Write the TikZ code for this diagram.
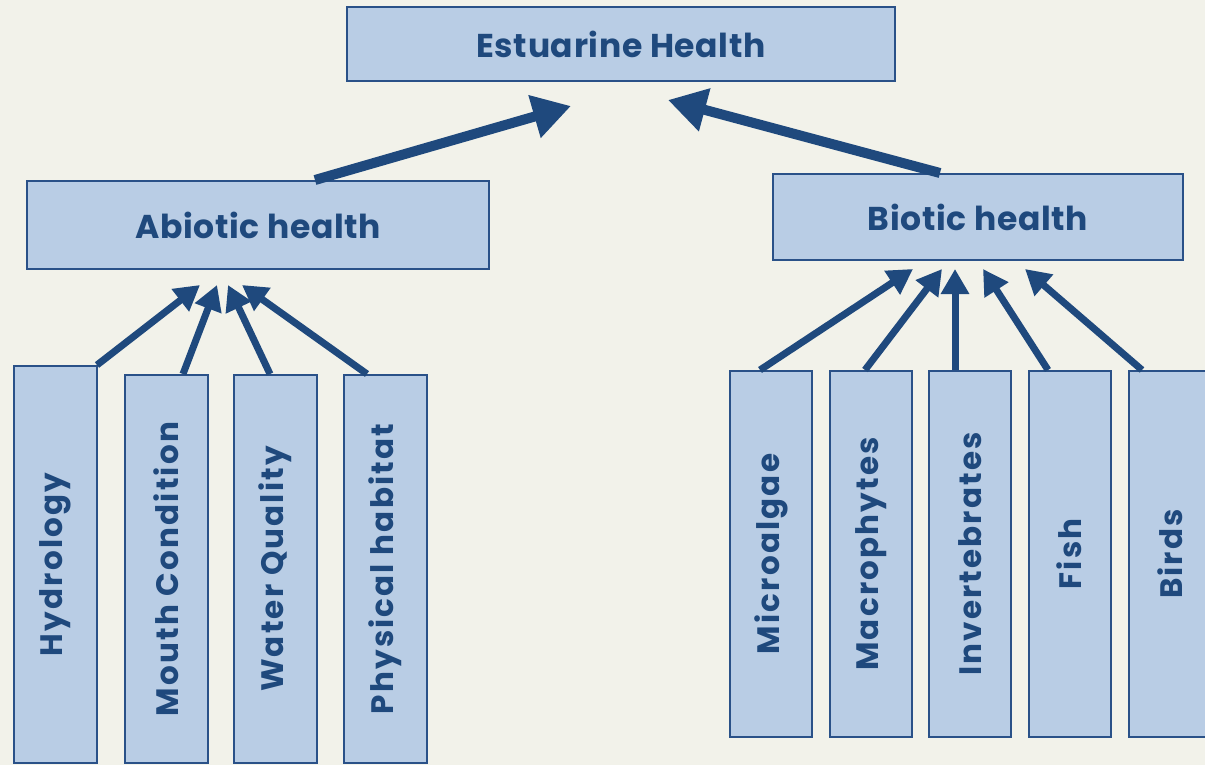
\documentclass[tikz,border=0pt]{standalone}
\usepackage{fontspec}
\setmainfont{Poppins}
\usetikzlibrary{arrows.meta,positioning}
\definecolor{bgpaper}{HTML}{F2F2EA}
\definecolor{boxfill}{HTML}{B9CDE5}
\definecolor{boxline}{HTML}{2A5188}
\definecolor{inkblue}{HTML}{1F497D}
\tikzset{
  headbox/.style={draw=boxline,line width=2pt,fill=boxfill,text=inkblue,
    font=\fontsize{33}{36}\selectfont\bfseries\addfontfeature{LetterSpace=2},inner sep=0pt},
  factorbox/.style={draw=boxline,line width=2pt,fill=boxfill,text=inkblue,
    font=\fontsize{31}{34}\selectfont\bfseries\addfontfeature{LetterSpace=7},inner sep=0pt,
    minimum width=83pt},
  bigarrow/.style={draw=inkblue,line width=10pt,
    -{Triangle[length=38pt,width=42pt]}},
  smallarrow/.style={draw=inkblue,line width=7pt,
    -{Triangle[length=25pt,width=27pt]}}
}
\begin{document}
\begin{tikzpicture}[x=1pt,y=-1pt]
  \fill[bgpaper] (0,0) rectangle (1205,765);
  \useasboundingbox (0,0) rectangle (1205,765);
  % top level and the two branches
  \node[headbox,minimum width=548pt,minimum height=74pt] (estuary) at (621,44) {Estuarine Health};
  \node[headbox,minimum width=462pt,minimum height=88pt] (abiotic) at (258,225) {Abiotic health};
  \node[headbox,minimum width=410pt,minimum height=86pt] (biotic) at (978,217) {Biotic health};
  \coordinate (abiotictip) at (571,106);
  \coordinate (biotictip) at (668,100);
  \draw[bigarrow] ([xshift=57pt]abiotic.north) -- (abiotictip);
  \draw[bigarrow] ([xshift=-38pt]biotic.north) -- (biotictip);
  % abiotic components
  \node[factorbox,minimum height=397pt] (hydro) at (55.5,564.5) {\rotatebox{90}{Hydrology}};
  \foreach \name/\x/\txt in {mouth/166.5/Mouth Condition,water/275.5/Water Quality,habitat/385.5/Physical habitat} {
    \node[factorbox,minimum height=388pt] (\name) at (\x,569) {\rotatebox{90}{\txt}};
  }
  % biotic components
  \foreach \name/\x/\txt in {algae/771/Microalgae,macro/871/Macrophytes,invert/970/Invertebrates,fish/1069.5/Fish,birds/1170/Birds} {
    \node[factorbox,minimum width=82pt,minimum height=366pt] (\name) at (\x,554) {\rotatebox{90}{\txt}};
  }
  % arrows into the branches
  \foreach \src/\xs/\tx in {hydro/41.5/200,mouth/16.5/217,water/-5.5/228,habitat/-18.5/242} {
    \coordinate (\src tip) at (\tx,285);
    \draw[smallarrow] ([xshift=\xs pt]\src.north) -- (\src tip);
  }
  \foreach \src/\xs/\tx in {algae/-11/913,macro/-6/942,invert/-15/955,fish/-21.5/983,birds/-28/1025} {
    \coordinate (\src tip) at (\tx,269);
    \draw[smallarrow] ([xshift=\xs pt]\src.north) -- (\src tip);
  }
\end{tikzpicture}
\end{document}
